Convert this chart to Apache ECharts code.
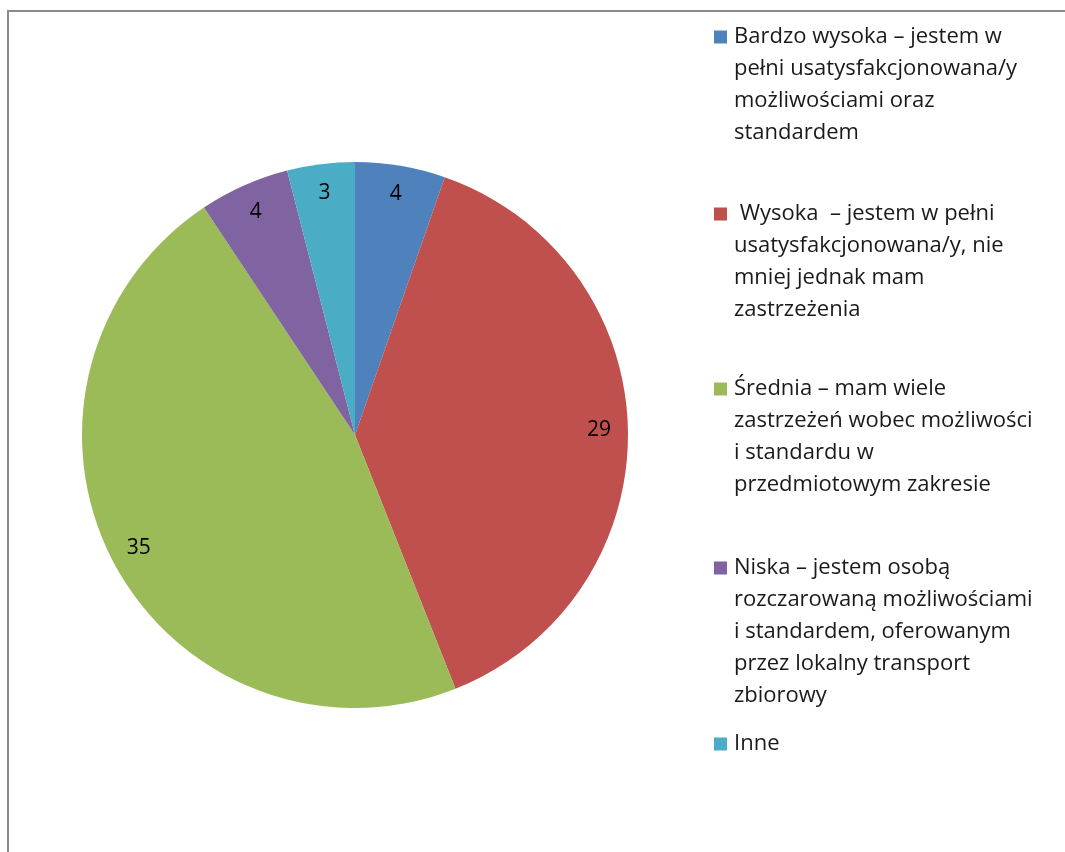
<!DOCTYPE html>
<html>
<head>
<meta charset="utf-8">
<script src="https://cdn.jsdelivr.net/npm/echarts@6/dist/echarts.min.js"></script>
<style>
html,body{margin:0;padding:0;background:#fff;}
#chart{width:1065px;height:852px;}
</style>
</head>
<body>
<div id="chart"></div>
<script>
// Data
const categories = [
  'Bardzo wysoka – jestem w\npełni usatysfakcjonowana/y\nmożliwościami oraz\nstandardem',
  ' Wysoka  – jestem w pełni\nusatysfakcjonowana/y, nie\nmniej jednak mam\nzastrzeżenia',
  'Średnia – mam wiele\nzastrzeżeń wobec możliwości\ni standardu w\nprzedmiotowym zakresie',
  'Niska – jestem osobą\nrozczarowaną możliwościami\ni standardem, oferowanym\nprzez lokalny transport\nzbiorowy',
  'Inne'
];
const values = [4, 29, 35, 4, 3];
const colors = ['#4F81BD', '#C0504D', '#9BBB59', '#8064A2', '#4BACC6'];
const legendTops = [21, 198, 373, 552, 728];

const FONT = '"Open Sans", "Noto Sans", sans-serif';
const LH = 32;

const pieData = categories.map((c, i) => ({ name: c, value: values[i], itemStyle: { color: colors[i] } }));

function iconFor(nLines) {
  const H = nLines * LH;
  const c = LH / 2;
  const a = c - 6.5, b = c + 6.5;
  return 'path://M0,0 L0.01,0 L0,0.01 Z M0,' + a + ' L13,' + a + ' L13,' + b + ' L0,' + b + ' Z M13,' + H + ' L12.99,' + H + ' L13,' + (H - 0.01) + ' Z';
}

const legends = categories.map((c, i) => {
  const n = c.split('\n').length;
  return {
    orient: 'vertical',
    left: 714,
    top: legendTops[i],
    padding: 0,
    itemWidth: 13,
    itemHeight: n * LH,
    itemGap: 0,
    selectedMode: false,
    data: [{ name: c, icon: iconFor(n), itemStyle: { color: colors[i], borderWidth: 0 } }],
    textStyle: { fontFamily: FONT, fontSize: 22, color: '#1a1a1a', lineHeight: LH, padding: [0, 0, 0, 2] }
  };
});

const chart = echarts.init(document.getElementById('chart'), null, { renderer: 'canvas' });
chart.setOption({
  animation: false,
  backgroundColor: '#fff',
  color: colors,
  graphic: [{
    type: 'rect',
    shape: { x: 8, y: 11, width: 1120, height: 900 },
    style: { fill: 'none', stroke: '#8a8a8a', lineWidth: 2 },
    silent: true, z: 100
  }],
  legend: legends,
  series: [{
    type: 'pie',
    center: [355, 435],
    radius: [0, 273],
    startAngle: 90,
    clockwise: true,
    silent: true,
    label: { show: false },
    labelLine: { show: false },
    itemStyle: { borderWidth: 0 },
    data: pieData
  }, {
    type: 'pie',
    center: [355, 435],
    radius: [236, 246],
    startAngle: 90,
    clockwise: true,
    silent: true,
    legendHoverLink: false,
    itemStyle: { color: 'rgba(0,0,0,0)', borderWidth: 0 },
    label: {
      show: true, position: 'inside', formatter: '{c}',
      fontFamily: FONT, fontSize: 21, color: '#000'
    },
    labelLine: { show: false },
    data: pieData.map(d => ({ name: d.name, value: d.value }))
  }]
});
</script>
</body>
</html>
